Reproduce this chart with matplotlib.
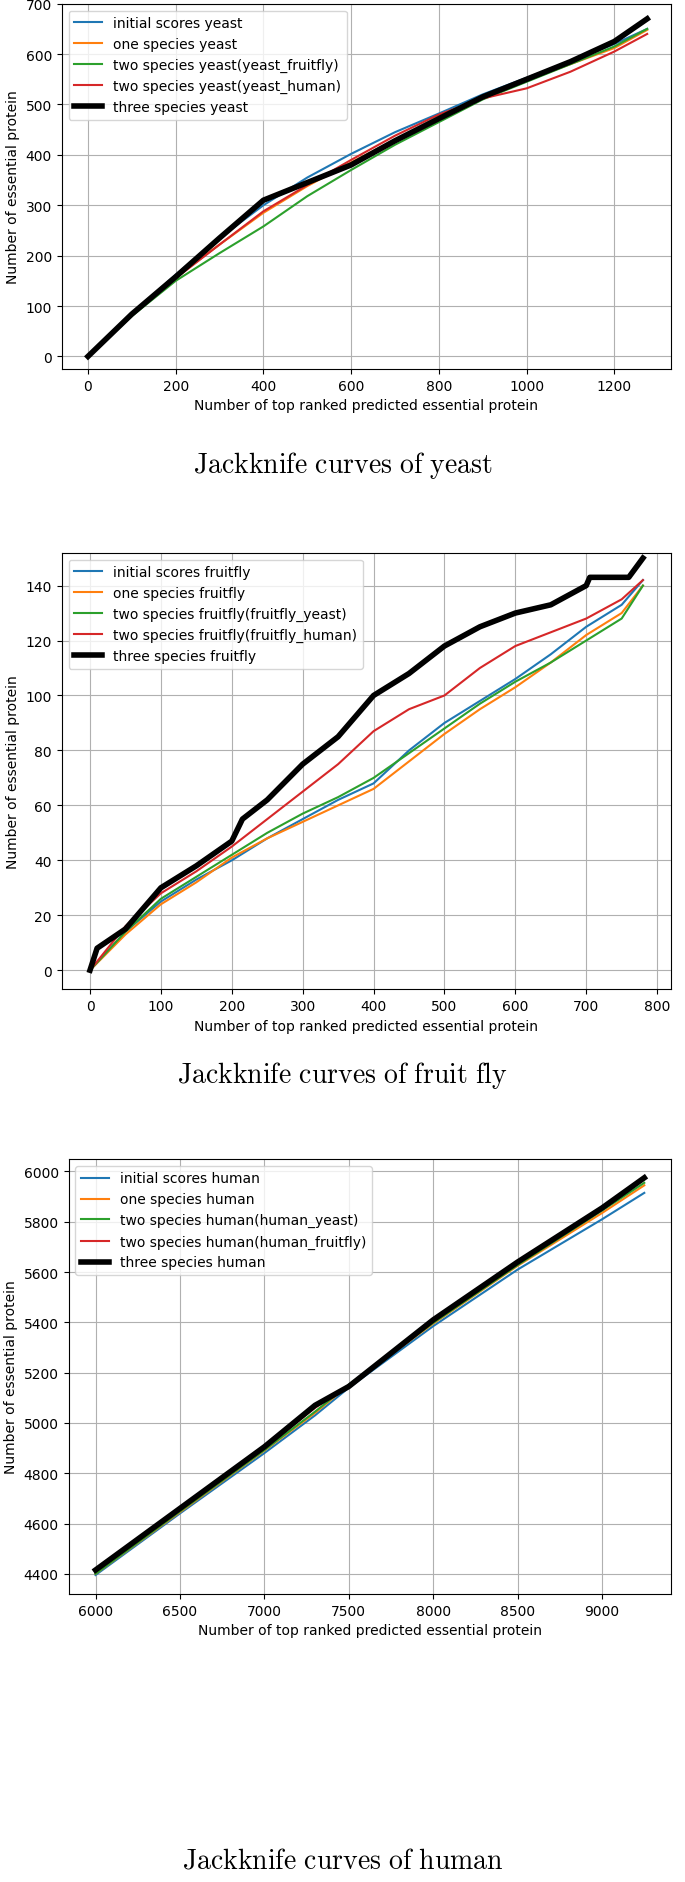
import matplotlib
matplotlib.use('Agg')
import matplotlib.pyplot as plt

plt.rcParams['mathtext.fontset'] = 'cm'

# ---------------- yeast ----------------
yeast_x = [0, 100, 200, 300, 400, 500, 600, 700, 800, 900, 1000, 1100, 1200, 1275]
yeast_initial = [0, 85, 162, 235, 300, 355, 402, 445, 482, 520, 553, 585, 620, 650]
yeast_one = [0, 83, 157, 222, 285, 338, 385, 430, 470, 512, 548, 580, 612, 648]
yeast_fruitfly = [0, 80, 150, 205, 258, 318, 370, 420, 465, 510, 545, 580, 615, 650]
yeast_human = [0, 83, 155, 222, 288, 340, 390, 438, 480, 512, 532, 565, 605, 640]
yeast_three = [0, 84, 158, 235, 310, 345, 380, 428, 472, 515, 550, 585, 625, 670]

# ---------------- fruit fly ----------------
fly_x_three = [0, 10, 50, 100, 150, 200, 215, 250, 300, 350, 400, 450, 500, 550, 600, 650, 700, 705, 760, 780]
fly_three = [0, 8, 15, 30, 38, 47, 55, 62, 75, 85, 100, 108, 118, 125, 130, 133, 140, 143, 143, 150]
fly_x = [0, 50, 100, 150, 200, 250, 300, 350, 400, 450, 500, 550, 600, 650, 700, 750, 780]
fly_initial = [0, 14, 25, 33, 40, 48, 55, 62, 68, 80, 90, 98, 106, 115, 125, 133, 142]
fly_one = [0, 13, 24, 32, 41, 48, 54, 60, 66, 76, 86, 95, 103, 112, 122, 130, 140]
fly_yeast = [0, 14, 26, 34, 42, 50, 57, 63, 70, 79, 88, 97, 105, 112, 120, 128, 140]
fly_human = [0, 16, 28, 36, 45, 55, 65, 75, 87, 95, 100, 110, 118, 123, 128, 135, 142]

# ---------------- human ----------------
human_x = [6000, 6500, 7000, 7300, 7500, 8000, 8500, 9000, 9250]
human_initial = [4395, 4640, 4880, 5030, 5140, 5385, 5610, 5810, 5915]
human_one = [4400, 4645, 4890, 5040, 5150, 5395, 5625, 5835, 5945]
human_yeast = [4400, 4648, 4892, 5045, 5152, 5398, 5628, 5845, 5955]
human_fruitfly = [4410, 4655, 4900, 5060, 5150, 5405, 5640, 5855, 5975]
human_three = [4415, 4660, 4905, 5070, 5145, 5410, 5640, 5855, 5975]

C = ['#1f77b4', '#ff7f0e', '#2ca02c', '#d62728']

fig = plt.figure(figsize=(6.85, 18.83), dpi=100)

panels = [
    ([0.09, 0.8035, 0.89, 0.194],
     [(yeast_x, yeast_initial, 'initial scores yeast'),
      (yeast_x, yeast_one, 'one species yeast'),
      (yeast_x, yeast_fruitfly, 'two species yeast(yeast_fruitfly)'),
      (yeast_x, yeast_human, 'two species yeast(yeast_human)')],
     (yeast_x, yeast_three, 'three species yeast'),
     [0, 200, 400, 600, 800, 1000, 1200], (-60, 1330), (-25, 700),
     'Jackknife curves of yeast', 0.753),
    ([0.09, 0.474, 0.89, 0.232],
     [(fly_x, fly_initial, 'initial scores fruitfly'),
      (fly_x, fly_one, 'one species fruitfly'),
      (fly_x, fly_yeast, 'two species fruitfly(fruitfly_yeast)'),
      (fly_x, fly_human, 'two species fruitfly(fruitfly_human)')],
     (fly_x_three, fly_three, 'three species fruitfly'),
     [0, 100, 200, 300, 400, 500, 600, 700, 800], (-40, 820), (-7, 152),
     'Jackknife curves of fruit fly', 0.429),
    ([0.1, 0.153, 0.88, 0.231],
     [(human_x, human_initial, 'initial scores human'),
      (human_x, human_one, 'one species human'),
      (human_x, human_yeast, 'two species human(human_yeast)'),
      (human_x, human_fruitfly, 'two species human(human_fruitfly)')],
     (human_x, human_three, 'three species human'),
     [6000, 6500, 7000, 7500, 8000, 8500, 9000], (5840, 9410), (4320, 6050),
     'Jackknife curves of human', 0.012),
]

for rect, series, three, xt, xl, yl, cap, cy in panels:
    ax = fig.add_axes(rect)
    for (x, y, lab), c in zip(series, C):
        ax.plot(x, y, color=c, lw=1.5, label=lab)
    ax.plot(three[0], three[1], color='black', lw=4, label=three[2])
    ax.set_xticks(xt)
    ax.set_xlim(*xl)
    ax.set_ylim(*yl)
    ax.grid(True)
    ax.set_xlabel('Number of top ranked predicted essential protein')
    ax.set_ylabel('Number of essential protein')
    ax.legend(loc='upper left')
    fig.text(0.5, cy, r'$\mathrm{' + cap.replace(' ', r'\ ') + '}$',
             ha='center', va='center', fontsize=20)

fig.savefig('out.png', dpi=100)
